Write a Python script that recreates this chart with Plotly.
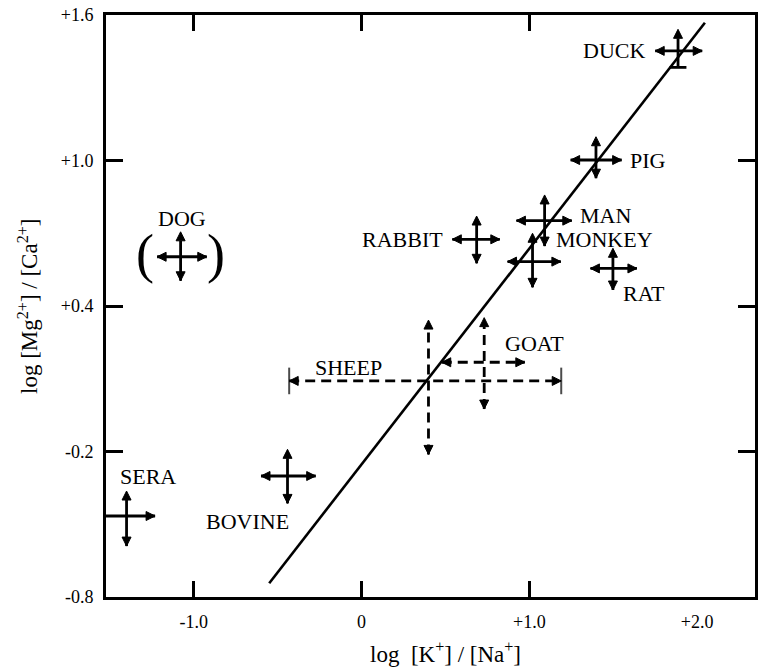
import plotly.graph_objects as go

# ---------------- data ----------------
animals = ["DUCK", "PIG", "MAN", "MONKEY", "RABBIT", "RAT", "DOG",
           "SHEEP", "GOAT", "BOVINE", "SERA"]
log_k_na = [1.886, 1.397, 1.091, 1.019, 0.686, 1.498, -1.078,
            0.399, 0.731, -0.441, -1.400]
log_mg_ca = [1.452, 1.002, 0.752, 0.583, 0.675, 0.555, 0.603,
             0.091, 0.168, -0.301, -0.466]
k_na_low = [1.750, 1.246, 0.923, 0.870, 0.541, 1.364, -1.218,
            -0.431, 0.478, -0.599, -1.523]
k_na_high = [2.030, 1.550, 1.253, 1.188, 0.824, 1.641, -0.922,
             1.190, 0.973, -0.273, -1.230]
mg_ca_low = [1.384, 0.927, 0.647, 0.477, 0.576, 0.466, 0.504,
             -0.212, -0.025, -0.414, -0.590]
mg_ca_high = [1.541, 1.098, 0.858, 0.700, 0.771, 0.638, 0.706,
              0.342, 0.352, -0.191, -0.363]

fit_x = [-0.55, 2.046]
fit_y = [-0.743, 1.568]

x_tick_vals = [-1, 0, 1, 2]
x_tick_text = ["-1.0", "0", "+1.0", "+2.0"]
x_mark_vals = [-1, 0, 1]
y_tick_vals = [-0.8, -0.2, 0.4, 1.0, 1.6]
y_tick_text = ["-0.8", "-0.2", "+0.4", "+1.0", "+1.6"]

# ---------------- styles / layout helpers ----------------
X_RANGE = [-1.5225, 2.3446]
Y_RANGE = [-0.8, 1.6]
FONT = "Liberation Serif"
LW = 2.8
AXW = 2.8
HEAD = 9
dashed = {"SHEEP", "GOAT"}
# special end styles: 'cap' = bar only, 'arrowcap' = arrow with bar
end_style = {("DUCK", "y_low"): "cap",
             ("SHEEP", "x_low"): "arrowcap",
             ("SHEEP", "x_high"): "arrowcap"}

label_pos = {
    "DUCK": (1.704, 1.452, "right"),
    "PIG": (1.585, 1.000, "left"),
    "MAN": (1.290, 0.775, "left"),
    "MONKEY": (1.149, 0.673, "left"),
    "RABBIT": (0.498, 0.673, "right"),
    "RAT": (1.544, 0.452, "left"),
    "DOG": (-1.071, 0.760, "center"),
    "SHEEP": (-0.289, 0.148, "left"),
    "GOAT": (0.844, 0.244, "left"),
    "BOVINE": (-0.941, -0.487, "left"),
    "SERA": (-1.450, -0.302, "left"),
}
paren_pos = [(-1.291, 0.615, "("), (-0.866, 0.615, ")")]

fig = go.Figure()

# regression line
fig.add_trace(go.Scatter(x=fit_x, y=fit_y, mode="lines", xaxis="x2",
                         line=dict(color="black", width=2.6),
                         showlegend=False, hoverinfo="skip"))

cap_x, cap_y, cap_sym, cap_size = [], [], [], []

for i, name in enumerate(animals):
    dash = "10px,6px" if name in dashed else "solid"
    cx, cy = log_k_na[i], log_mg_ca[i]
    # horizontal arm
    syms, sizes, lws = [], [], []
    for key, sym in (("x_low", "arrow-left"), ("x_high", "arrow-right")):
        st = end_style.get((name, key), "arrow")
        if st == "cap":
            syms.append("line-ns"); sizes.append(11); lws.append(LW)
        else:
            syms.append(sym); sizes.append(HEAD); lws.append(1)
        if st == "arrowcap":
            cap_x.append(k_na_low[i] if key == "x_low" else k_na_high[i])
            cap_y.append(cy); cap_sym.append("line-ns"); cap_size.append(19)
    fig.add_trace(go.Scatter(
        x=[k_na_low[i], k_na_high[i]], y=[cy, cy], mode="lines+markers",
        line=dict(color="black", width=LW, dash=dash),
        marker=dict(symbol=syms, size=sizes, color="black", opacity=1,
                    line=dict(color="black", width=lws)),
        cliponaxis=False, showlegend=False, hoverinfo="skip"))
    # vertical arm
    syms, sizes, lws = [], [], []
    for key, sym in (("y_low", "arrow-down"), ("y_high", "arrow-up")):
        st = end_style.get((name, key), "arrow")
        if st == "cap":
            syms.append("line-ew"); sizes.append(12); lws.append(LW)
        else:
            syms.append(sym); sizes.append(HEAD); lws.append(1)
    fig.add_trace(go.Scatter(
        x=[cx, cx], y=[mg_ca_low[i], mg_ca_high[i]], mode="lines+markers",
        line=dict(color="black", width=LW, dash=dash),
        marker=dict(symbol=syms, size=sizes, color="black", opacity=1,
                    line=dict(color="black", width=lws)),
        cliponaxis=False, showlegend=False, hoverinfo="skip"))

if cap_x:
    fig.add_trace(go.Scatter(
        x=cap_x, y=cap_y, mode="markers",
        marker=dict(symbol=cap_sym, size=cap_size, color="black",
                    line=dict(color="black", width=2)),
        cliponaxis=False, showlegend=False, hoverinfo="skip"))

annotations = []
for name in animals:
    lx, ly, anchor = label_pos[name]
    annotations.append(dict(x=lx, y=ly, xref="x", yref="y", text=name,
                            showarrow=False, xanchor=anchor, yanchor="middle",
                            font=dict(family=FONT, size=22, color="black")))
for px, py, ch in paren_pos:
    annotations.append(dict(x=px, y=py, xref="x", yref="y", text=ch,
                            showarrow=False, xanchor="center", yanchor="middle",
                            font=dict(family=FONT, size=54, color="black")))

annotations.append(dict(x=0.523, y=-0.096, xref="paper", yref="paper",
                        text="log\u00a0\u00a0[K<sup>+</sup>] / [Na<sup>+</sup>]",
                        showarrow=False, xanchor="center", yanchor="middle",
                        font=dict(family=FONT, size=23, color="black")))
annotations.append(dict(x=-0.1196, y=0.499, xref="paper", yref="paper",
                        text="log [Mg<sup>2+</sup>] / [Ca<sup>2+</sup>]",
                        textangle=-90,
                        showarrow=False, xanchor="center", yanchor="middle",
                        font=dict(family=FONT, size=23, color="black")))

fig.update_layout(
    width=759, height=669,
    margin=dict(l=106, r=1, t=15, b=72),
    paper_bgcolor="white", plot_bgcolor="white",
    font=dict(family=FONT, color="black"),
    annotations=annotations,
    xaxis=dict(range=X_RANGE, tickvals=x_tick_vals, ticktext=x_tick_text,
               ticks="", showline=True, linecolor="black", linewidth=AXW,
               mirror=True, showgrid=False, zeroline=False,
               tickfont=dict(family=FONT, size=18, color="black"),
               ticklabelstandoff=6),
    xaxis2=dict(range=X_RANGE, overlaying="x", anchor="y", side="bottom",
                tickvals=x_mark_vals, ticks="inside", ticklen=16,
                tickwidth=AXW, tickcolor="black", showticklabels=False,
                showline=True, linecolor="black", linewidth=AXW,
                mirror="ticks", showgrid=False, zeroline=False),
    yaxis=dict(range=Y_RANGE, tickvals=y_tick_vals, ticktext=y_tick_text,
               ticks="inside", ticklen=17, tickwidth=AXW, tickcolor="black",
               showline=True, linecolor="black", linewidth=AXW,
               mirror="ticks", showgrid=False, zeroline=False,
               tickfont=dict(family=FONT, size=18, color="black"),
               ticklabelstandoff=6),
)

fig.write_html("out.html")
